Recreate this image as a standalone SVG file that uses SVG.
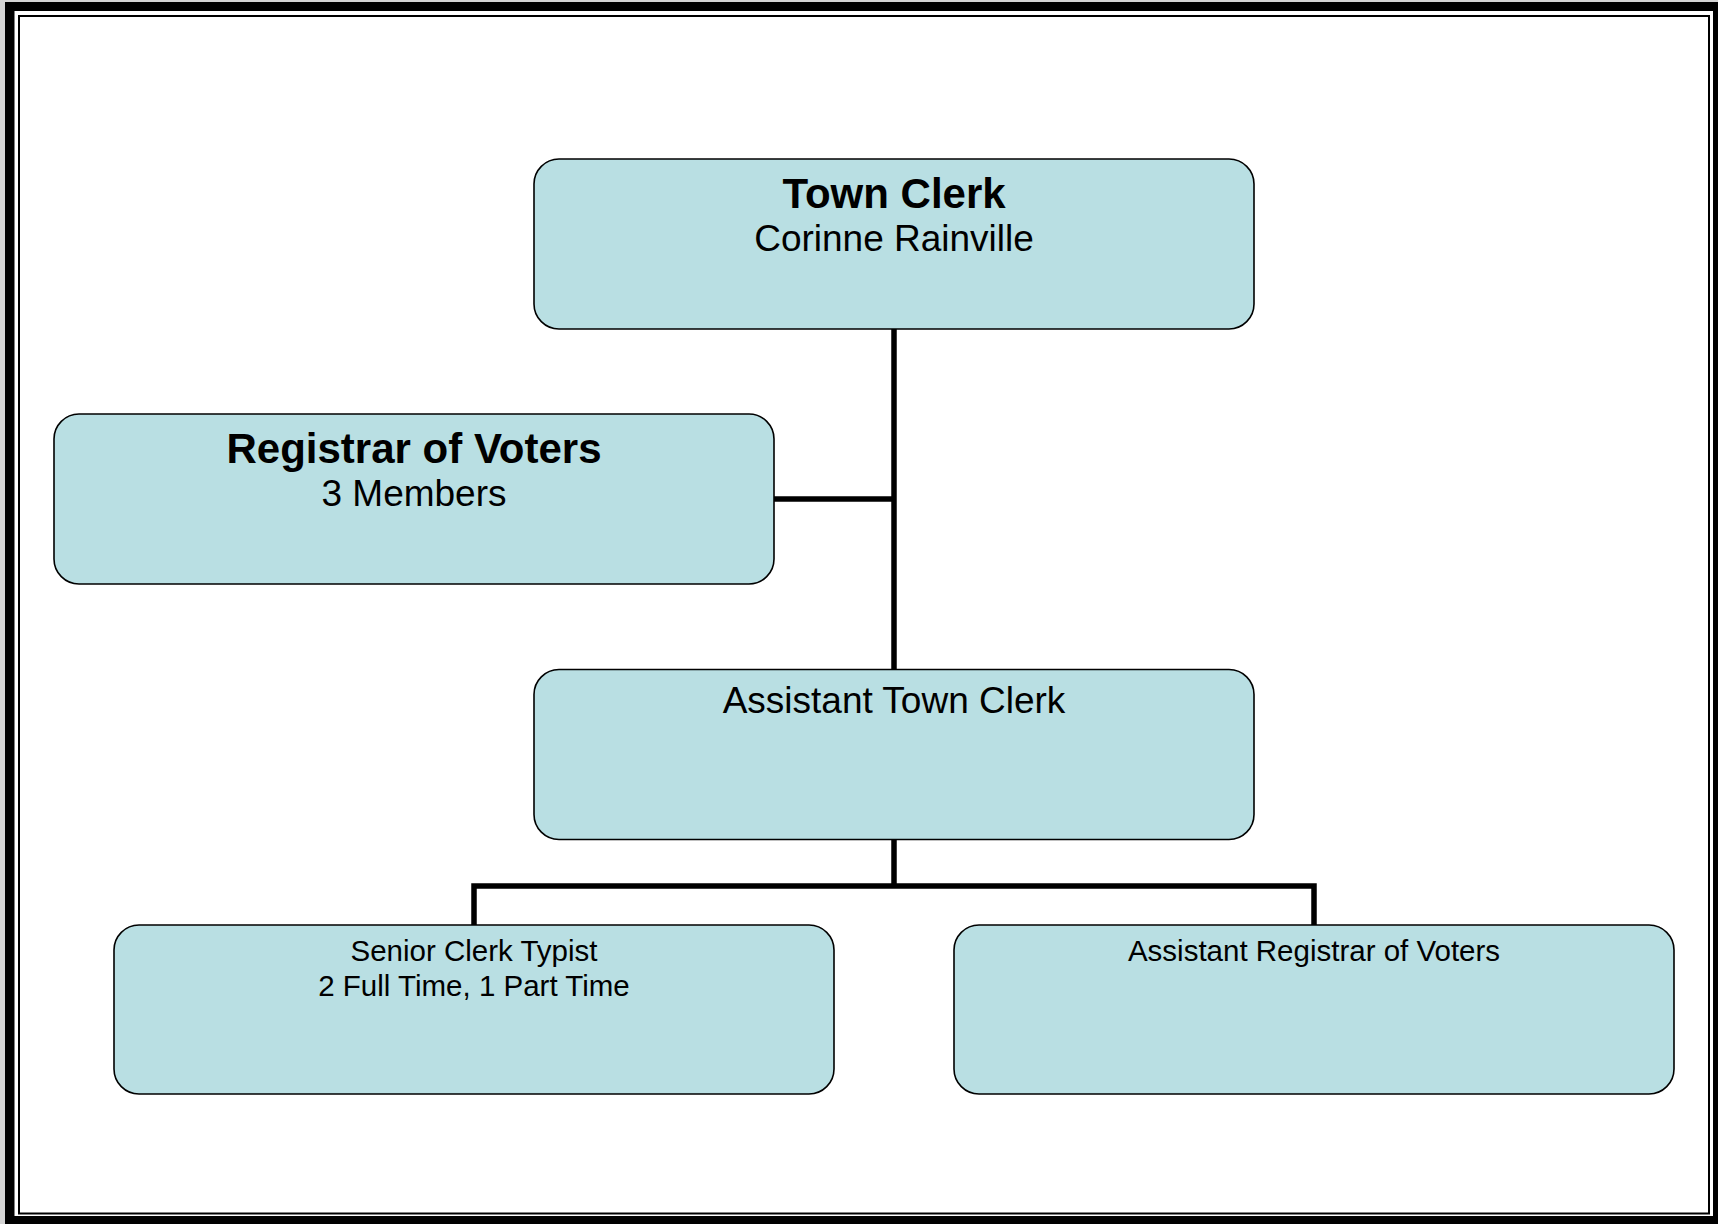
<svg xmlns="http://www.w3.org/2000/svg" width="1718" height="1224" viewBox="0 0 1718 1224">
  <style>
    .box { fill: #B9DFE3; stroke: #000000; stroke-width: 1.6; }
    .t { font-family: "Liberation Sans", Arial, sans-serif; fill: #000000; text-anchor: middle; }
    .head { font-weight: bold; font-size: 42px; }
    .sub { font-size: 37px; }
    .small { font-size: 29.5px; }
    .link { fill: none; stroke: #000000; stroke-width: 5.5; stroke-linecap: butt; stroke-linejoin: miter; }
  </style>

  <!-- page frame -->
  <g id="frame">
    <rect x="0" y="0" width="1718" height="1224" fill="#D4D4D4"/>
    <rect x="5" y="2" width="1713" height="1222" fill="#000000"/>
    <rect x="14.5" y="11" width="1698.5" height="1205" fill="#FFFFFF"/>
    <rect x="19" y="16" width="1690" height="1197.5" fill="none" stroke="#000000" stroke-width="2"/>
  </g>

  <!-- reporting lines -->
  <g id="connectors">
    <path class="link" d="M894 329 V669.5"/>
    <path class="link" d="M773.5 499 H894"/>
    <path class="link" d="M894 839.5 V886"/>
    <path class="link" d="M474 925 V886 H1314 V925"/>
  </g>

  <g id="town-clerk">
    <rect class="box" x="534" y="159" width="720" height="170" rx="25" ry="25"/>
    <text class="t head" x="894" y="208">Town Clerk</text>
    <text class="t sub" x="894" y="251">Corinne Rainville</text>
  </g>

  <g id="registrar-of-voters">
    <rect class="box" x="54" y="414" width="720" height="170" rx="25" ry="25"/>
    <text class="t head" x="414" y="463">Registrar of Voters</text>
    <text class="t sub" x="414" y="506">3 Members</text>
  </g>

  <g id="assistant-town-clerk">
    <rect class="box" x="534" y="669.5" width="720" height="170" rx="25" ry="25"/>
    <text class="t sub" x="894" y="713">Assistant Town Clerk</text>
  </g>

  <g id="senior-clerk-typist">
    <rect class="box" x="114" y="925" width="720" height="169" rx="25" ry="25"/>
    <text class="t small" x="474" y="961">Senior Clerk Typist</text>
    <text class="t small" x="474" y="996">2 Full Time, 1 Part Time</text>
  </g>

  <g id="assistant-registrar">
    <rect class="box" x="954" y="925" width="720" height="169" rx="25" ry="25"/>
    <text class="t small" x="1314" y="961">Assistant Registrar of Voters</text>
  </g>
</svg>
